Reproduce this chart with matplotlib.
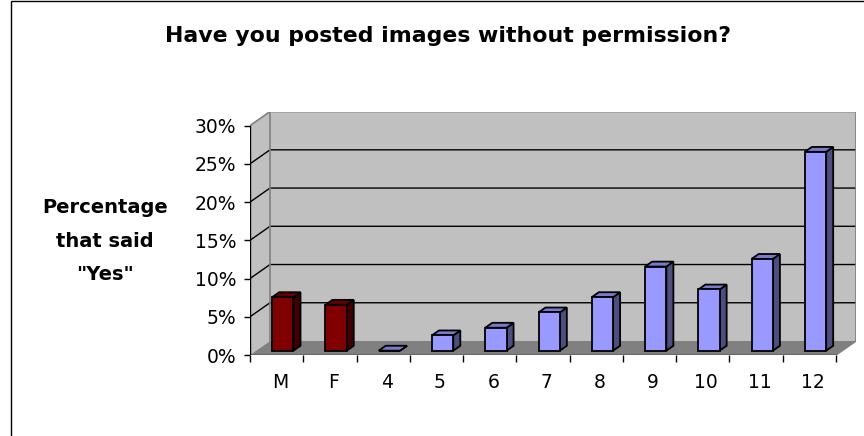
import matplotlib
matplotlib.use("Agg")
import matplotlib.pyplot as plt
from matplotlib.patches import Polygon, Rectangle
from matplotlib.ticker import PercentFormatter, FixedLocator
from matplotlib.transforms import ScaledTranslation

categories = ["M", "F", "4", "5", "6", "7", "8", "9", "10", "11", "12"]
values = [7, 6, 0, 2, 3, 5, 7, 11, 8, 12, 26]
groups = ["gender", "gender"] + ["grade"] * 9
y_ticks = [0, 5, 10, 15, 20, 25, 30]

title = "Have you posted images without permission?"
ylabel = 'Percentage\nthat said\n"Yes"'

# face colours: front, top, side
palette = {
    "gender": ("#800000", "#660000", "#400000"),
    "grade": ("#9999ff", "#7a7acc", "#4d4d80"),
}
wall = "#c0c0c0"
wall_edge = "#808080"
floor = "#808080"

W_PX, H_PX = 864, 436
origin_px = (250, 355)        # front corner of the plot (x=-0.5, y=0)
px_cat = 53.27                # pixels per category
px_pct = 7.647                # pixels per percent
depth_px = (20, 14)           # 3d depth offset

n = len(categories)
ymax = y_ticks[-1]
DX = depth_px[0] / px_cat
DY = depth_px[1] / px_pct
bar_w = 0.4
d0, d1 = 0.31, 0.66           # bar front/back depth fraction

fig = plt.figure(figsize=(W_PX / 100, H_PX / 100), dpi=100)
fig.patch.set_facecolor("white")

ax = fig.add_axes([origin_px[0] / W_PX,
                   (H_PX - origin_px[1]) / H_PX,
                   (n * px_cat + depth_px[0]) / W_PX,
                   (ymax * px_pct + depth_px[1]) / H_PX])
ax.set_xlim(-0.5, n - 0.5 + DX)
ax.set_ylim(0, ymax + DY)
ax.set_facecolor("none")
for s in ax.spines.values():
    s.set_visible(False)

x_lo, x_hi = -0.5, n - 0.5

# walls and floor
ax.add_patch(Polygon([(x_lo, 0), (x_lo, ymax), (x_lo + DX, ymax + DY), (x_lo + DX, DY)],
                     closed=True, facecolor=wall, edgecolor="none", zorder=1))
ax.add_patch(Polygon([(x_lo + DX, DY), (x_lo + DX, ymax + DY), (x_hi + DX, ymax + DY), (x_hi + DX, DY)],
                     closed=True, facecolor=wall, edgecolor="none", zorder=1))
ax.add_patch(Polygon([(x_lo, 0), (x_hi, 0), (x_hi + DX, DY), (x_lo + DX, DY)],
                     closed=True, facecolor=floor, edgecolor="none", zorder=1))

# gridlines on side and back walls
for v in y_ticks[1:-1]:
    ax.plot([x_lo, x_lo + DX, x_hi + DX], [v, v + DY, v + DY], color="black", lw=1, zorder=2)

# wall outlines
ax.plot([x_lo, x_lo + DX, x_hi + DX, x_hi + DX, x_hi],
        [ymax, ymax + DY, ymax + DY, DY, 0], color=wall_edge, lw=1.2, zorder=2)
ax.plot([x_lo + DX, x_lo + DX], [DY, ymax + DY], color=wall_edge, lw=1.2, zorder=2)

# axis lines
ax.plot([x_lo, x_lo], [0, ymax], color="black", lw=1, zorder=2)
ax.plot([x_lo, x_hi], [0, 0], color="black", lw=1, zorder=2)

# bars
xs = list(range(n))
for i, (v, g) in enumerate(zip(values, groups)):
    front, top, side = palette[g]
    left = i - bar_w / 2 + d0 * DX
    right = left + bar_w
    base = d0 * DY
    ddx = (d1 - d0) * DX
    ddy = (d1 - d0) * DY
    ax.add_patch(Polygon([(right, base), (right + ddx, base + ddy), (right + ddx, base + v + ddy), (right, base + v)],
                         closed=True, facecolor=side, edgecolor="black", lw=1.3, zorder=3))
    ax.add_patch(Polygon([(left, base + v), (left + ddx, base + v + ddy), (right + ddx, base + v + ddy), (right, base + v)],
                         closed=True, facecolor=top, edgecolor="black", lw=1.3, zorder=3))
ax.bar([x + d0 * DX for x in xs], values, width=bar_w, bottom=d0 * DY,
       color=[palette[g][0] for g in groups], edgecolor="black", linewidth=1.3, zorder=4)

# y axis ticks
ax.yaxis.set_major_locator(FixedLocator(y_ticks))
ax.yaxis.set_major_formatter(PercentFormatter(decimals=0))
ax.tick_params(axis="y", direction="out", length=4, width=1, pad=6, labelsize=13.5)

# x axis: tick marks at category borders, labels at centres
ax.set_xticks([x - 0.5 for x in range(n + 1)])
ax.set_xticklabels([])
ax.set_xticks(xs, minor=True)
ax.set_xticklabels(categories, minor=True)
ax.tick_params(axis="x", which="major", direction="out", length=5, width=1)
ax.tick_params(axis="x", which="minor", length=0, pad=13, labelsize=13.5)
for lab in ax.get_xticklabels(minor=True):
    lab.set_transform(lab.get_transform() + ScaledTranslation(0.035, 0, fig.dpi_scale_trans))

fig.text(448 / W_PX, 1 - 36 / H_PX, title, ha="center", va="center",
         fontsize=15.8, fontweight="bold")
fig.text(105 / W_PX, 1 - 241 / H_PX, ylabel, ha="center", va="center",
         fontsize=14, fontweight="bold", linespacing=2.0)

# chart border (cropped on right and bottom)
fig.patches.append(Rectangle((11 / W_PX, -0.1), 1.2, 1.1 - 1.5 / H_PX,
                             transform=fig.transFigure, fill=False,
                             edgecolor="black", lw=1))

fig.savefig("out.png", dpi=100)
